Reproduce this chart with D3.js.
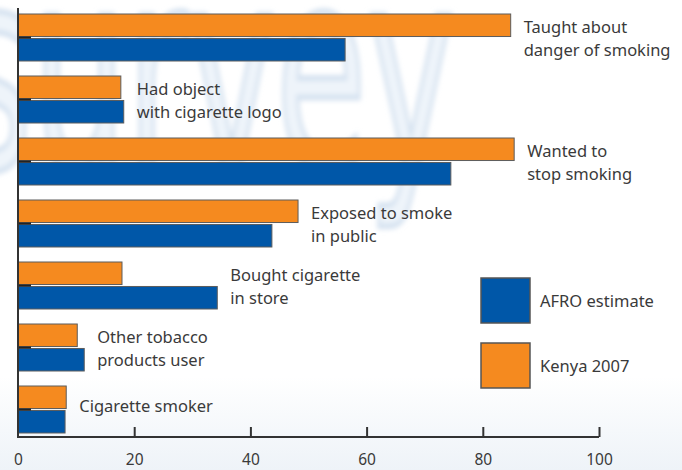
<!DOCTYPE html>
<html>
<head>
<meta charset="utf-8">
<script src="https://cdn.jsdelivr.net/npm/d3@7"></script>
<style>
  html, body { margin: 0; padding: 0; background: #fff; }
  svg { display: block; }
  text { font-family: "Noto Sans", "Open Sans", sans-serif; fill: #3a3a3a; }
</style>
</head>
<body>
<div id="chart"></div>
<script>
(function survey_bars() {

  const categories = [
    "Taught about danger of smoking",
    "Had object with cigarette logo",
    "Wanted to stop smoking",
    "Exposed to smoke in public",
    "Bought cigarette in store",
    "Other tobacco products user",
    "Cigarette smoker"
  ];
  const labelLines = [
    ["Taught about", "danger of smoking"],
    ["Had object", "with cigarette logo"],
    ["Wanted to", "stop smoking"],
    ["Exposed to smoke", "in public"],
    ["Bought cigarette", "in store"],
    ["Other tobacco", "products user"],
    ["Cigarette smoker"]
  ];
  const kenya = [84.8, 17.7, 85.4, 48.2, 17.9, 10.2, 8.3];
  const afro = [56.3, 18.2, 74.5, 43.7, 34.3, 11.4, 8.1];
  const seriesNames = ["Kenya 2007", "AFRO estimate"];
  const seriesColors = ["#f58a1f", "#0057a8"];
  const xTicks = [0, 20, 40, 60, 80, 100];

  const width = 682, height = 470;

  const svg = d3.select("#chart")
    .append("svg")
    .attr("width", width)
    .attr("height", height);

  const defs = svg.append("defs");
  const bg = defs.append("linearGradient").attr("id", "bg")
    .attr("x1", 0).attr("x2", 0).attr("y1", 0).attr("y2", 1);
  bg.append("stop").attr("offset", "0.8").attr("stop-color", "#ffffff");
  bg.append("stop").attr("offset", "1").attr("stop-color", "#eef3f8");
  defs.append("filter").attr("id", "soft")
    .append("feGaussianBlur").attr("stdDeviation", 2.5);

  svg.append("rect").attr("width", width).attr("height", height).attr("fill", "url(#bg)");

  // faint watermark behind the bars
  svg.append("text")
    .attr("x", -45)
    .attr("y", 168)
    .attr("filter", "url(#soft)")
    .attr("textLength", 500)
    .attr("lengthAdjust", "spacingAndGlyphs")
    .style("font-family", "'DejaVu Sans', sans-serif")
    .style("font-size", "280px")
    .style("fill", "#eef4fa")
    .style("stroke", "#d5e2f0")
    .style("stroke-width", 6)
    .text("survey");

  const x = d3.scaleLinear().domain([0, 100]).range([18, 599]);

  const y = d3.scaleBand()
    .domain(categories)
    .range([14, 433])
    .paddingInner(15 / 62);

  const ySub = d3.scaleBand()
    .domain(seriesNames)
    .range([0, y.bandwidth()])
    .paddingInner(0.08);

  const rows = categories.map((c, i) => ({ cat: c, lines: labelLines[i], vals: [kenya[i], afro[i]] }));

  const row = svg.append("g").selectAll("g.row")
    .data(rows)
    .join("g")
    .attr("class", "row")
    .attr("transform", d => `translate(0,${y(d.cat)})`);

  row.selectAll("rect")
    .data(d => d.vals.map((v, j) => ({ name: seriesNames[j], v, color: seriesColors[j] })))
    .join("rect")
    .attr("x", x(0))
    .attr("y", d => ySub(d.name))
    .attr("width", d => x(d.v) - x(0))
    .attr("height", ySub.bandwidth())
    .attr("fill", d => d.color)
    .attr("stroke", "#5c5c5c")
    .attr("stroke-width", 1);

  // short ticks between the two bars
  row.append("line")
    .attr("x1", x(0)).attr("x2", x(0) + 13)
    .attr("y1", y.bandwidth() / 2).attr("y2", y.bandwidth() / 2)
    .attr("stroke", "#222").attr("stroke-width", 2);

  const labelX = d => x(d3.max(d.vals)) + 13;
  row.append("text")
    .attr("x", labelX)
    .style("font-size", "16.5px")
    .selectAll("tspan")
    .data(d => d.lines.map((t, k) => ({ t, k, n: d.lines.length, lx: labelX(d) })))
    .join("tspan")
    .attr("x", d => d.lx)
    .attr("y", d => d.n === 1 ? 26 : (d.k === 0 ? 19 : 42))
    .text(d => d.t);

  // axes
  const xAxis = svg.append("g")
    .attr("transform", "translate(0,437)")
    .call(d3.axisBottom(x).tickValues(xTicks).tickSize(-10).tickPadding(17).tickFormat(d3.format("d")));
  xAxis.select(".domain").attr("stroke", "#333").attr("stroke-width", 2)
    .attr("d", `M${x(0)},0H${x(100)}`);
  xAxis.selectAll(".tick line").attr("stroke", "#333").attr("stroke-width", 2)
    .attr("display", d => d === 0 ? "none" : null);
  xAxis.selectAll(".tick text").style("font-size", "15.5px").style("fill", "#3a3a3a");

  svg.append("line")
    .attr("x1", x(0)).attr("x2", x(0))
    .attr("y1", 8).attr("y2", 438)
    .attr("stroke", "#333").attr("stroke-width", 2);

  // legend
  const legendItems = [
    { name: "AFRO estimate", color: seriesColors[1], y: 278 },
    { name: "Kenya 2007", color: seriesColors[0], y: 343 }
  ];
  const legend = svg.append("g").selectAll("g")
    .data(legendItems)
    .join("g")
    .attr("transform", d => `translate(481,${d.y})`);
  legend.append("rect")
    .attr("width", 49).attr("height", 45)
    .attr("fill", d => d.color)
    .attr("stroke", "#555").attr("stroke-width", 1.5);
  legend.append("text")
    .attr("x", 59).attr("y", 29)
    .style("font-size", "16.5px")
    .text(d => d.name);

})();
</script>
</body>
</html>
